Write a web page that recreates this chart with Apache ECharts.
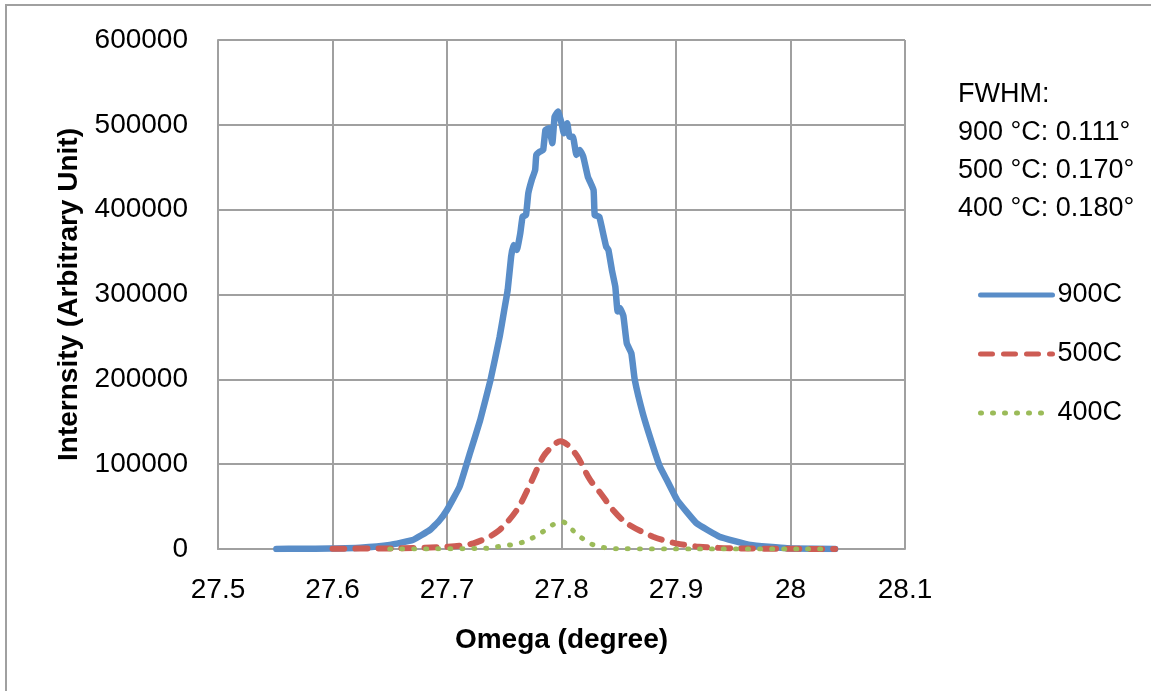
<!DOCTYPE html>
<html>
<head>
<meta charset="utf-8">
<script src="https://cdn.jsdelivr.net/npm/echarts@6/dist/echarts.min.js"></script>
<style>
  html, body { margin: 0; padding: 0; background: #fff; }
  #chart { width: 1153px; height: 691px; }
</style>
</head>
<body>
<div id="chart"></div>
<script>
  // omega (degree) and intensity
  const omega900 = [27.551, 27.572, 27.598, 27.624, 27.650, 27.670, 27.685, 27.693, 27.700, 27.711, 27.720,
    27.729, 27.738, 27.746, 27.750, 27.753, 27.756, 27.758, 27.761, 27.764, 27.766, 27.769, 27.771,
    27.774, 27.777, 27.778, 27.781, 27.784, 27.786, 27.789, 27.792, 27.794, 27.797, 27.800, 27.802,
    27.805, 27.807, 27.810, 27.813, 27.816, 27.819, 27.823, 27.828, 27.829, 27.833, 27.837, 27.839,
    27.841, 27.844, 27.847, 27.849, 27.851, 27.854, 27.857, 27.861, 27.864, 27.871, 27.880, 27.886,
    27.892, 27.901, 27.918, 27.938, 27.965, 27.997, 28.039]
  const int900 = [0, 300, 600, 1500, 4700, 10600, 22400, 33000, 46000, 73500, 112800,
    152000, 199300, 250300, 281700, 305300, 344600, 358400, 352500, 372200, 391700, 393700, 419300,
    435000, 446800, 464500, 468400, 470400, 494000, 496000, 478400, 509700, 515600, 501900, 490100,
    501900, 486000, 486000, 464500, 470400, 462500, 438900, 423200, 393700, 391700, 368100, 356400,
    352500, 328900, 309200, 280000, 284000, 275000, 242500, 230700, 199300, 160000, 120600, 97000,
    81400, 57800, 30300, 14500, 4700, 800, 0]

  const omega500 = [27.600, 27.656, 27.700, 27.723, 27.744, 27.761, 27.773, 27.784, 27.792, 27.799,
    27.806, 27.814, 27.825, 27.834, 27.845, 27.857, 27.880, 27.900, 27.920, 27.950, 28.039]
  const int500 = [400, 800, 2700, 6700, 20400, 46000, 77500, 108800, 121000, 127000,
    122000, 108800, 81400, 66000, 46000, 30300, 14500, 6700, 2700, 800, 0]

  const omega400 = [27.650, 27.734, 27.744, 27.755, 27.766, 27.774, 27.783, 27.792, 27.801, 27.809,
    27.817, 27.826, 27.836, 27.847, 27.921, 28.035]
  const int400 = [0, 800, 2700, 4700, 7900, 12600, 19700, 28300, 32000, 23100,
    13700, 5900, 2000, 400, 0, 0]

  const seriesNames = ['900C', '500C', '400C']
  const fwhmLines = ['FWHM:', '900 °C: 0.111°', '500 °C: 0.170°', '400 °C: 0.180°']

  function pairs(xs, ys) {
    return xs.map((x, i) => [x, ys[i]])
  }

  const font = 'Liberation Sans'
  const gridColor = '#A0A0A0'

  const myChart = echarts.init(document.getElementById('chart'))
  const option = {
    backgroundColor: '#fff',
    animation: false,
    grid: {
      left: 218,
      right: 248,
      top: 40,
      bottom: 142
    },
    legend: {
      orient: 'vertical',
      left: 973,
      top: 275,
      itemWidth: 72,
      itemHeight: 14,
      itemGap: 29,
      itemStyle: { opacity: 0 },
      lineStyle: { width: 5 },
      textStyle: {
        fontFamily: font,
        fontSize: 27,
        color: '#000',
        lineHeight: 30
      },
      data: seriesNames
    },
    xAxis: {
      type: 'value',
      min: 27.5,
      max: 28.1,
      interval: 0.1,
      name: 'Omega (degree)',
      nameLocation: 'middle',
      nameGap: 77,
      nameTextStyle: {
        fontFamily: font,
        fontSize: 28,
        fontWeight: 'bold',
        color: '#000'
      },
      axisLine: { lineStyle: { color: gridColor, width: 2 } },
      axisTick: { show: false },
      axisLabel: {
        fontFamily: font,
        fontSize: 28,
        color: '#000',
        margin: 27,
        formatter: function (v) {
          return String(Number(v.toFixed(1)))
        }
      },
      splitLine: { show: true, lineStyle: { color: gridColor, width: 2 } }
    },
    yAxis: {
      type: 'value',
      min: 0,
      max: 600000,
      interval: 100000,
      name: 'Internsity (Arbitrary Unit)',
      nameLocation: 'middle',
      nameGap: 82,
      nameTextStyle: {
        fontFamily: font,
        fontSize: 28,
        fontWeight: 'bold',
        color: '#000'
      },
      axisLine: { show: true, lineStyle: { color: gridColor, width: 2 } },
      axisTick: { show: false },
      axisLabel: {
        fontFamily: font,
        fontSize: 28,
        color: '#000',
        margin: 30,
        formatter: function (v) {
          return String(v)
        }
      },
      splitLine: { show: true, lineStyle: { color: gridColor, width: 2 } }
    },
    graphic: [
      {
        type: 'polyline',
        shape: { points: [[6, 691], [6, 5], [1151, 5]] },
        style: { stroke: '#A0A0A0', lineWidth: 2, fill: null },
        silent: true
      },
      {
        type: 'text',
        left: 958,
        top: 76,
        style: {
          text: fwhmLines.join('\n'),
          fontFamily: font,
          fontSize: 27,
          lineHeight: 38,
          fill: '#000'
        }
      }
    ],
    series: [
      {
        name: '900C',
        type: 'line',
        symbol: 'none',
        smooth: 0.1,
        data: pairs(omega900, int900),
        itemStyle: { color: '#598DC8' },
        lineStyle: { color: '#598DC8', width: 6.5, cap: 'round', join: 'round' },
        z: 3
      },
      {
        name: '500C',
        type: 'line',
        smooth: 0.3,
        symbol: 'none',
        data: pairs(omega500, int500),
        itemStyle: { color: '#CD5C54' },
        lineStyle: { color: '#CD5C54', width: 6, type: [12, 11], cap: 'round' },
        z: 4
      },
      {
        name: '400C',
        type: 'line',
        smooth: 0.3,
        symbol: 'none',
        data: pairs(omega400, int400),
        itemStyle: { color: '#9BBB59' },
        lineStyle: { color: '#9BBB59', width: 5, type: [1, 11], cap: 'round' },
        z: 5
      }
    ]
  }
  myChart.setOption(option)
</script>
</body>
</html>
